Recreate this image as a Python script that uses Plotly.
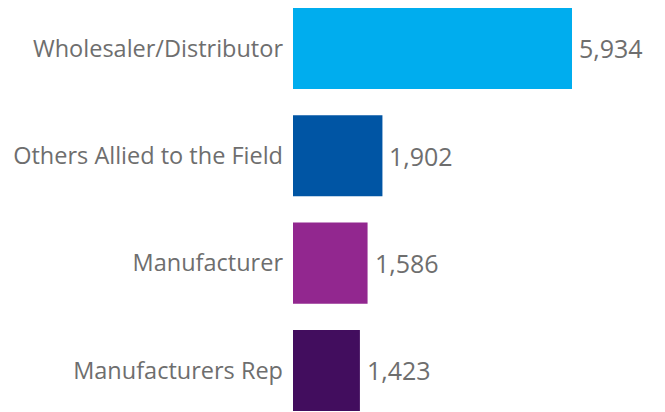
import plotly.graph_objects as go

categories = ["Wholesaler/Distributor", "Others Allied to the Field", "Manufacturer", "Manufacturers Rep"]
values = [5934, 1902, 1586, 1423]
colors = ["#00ADEE", "#0055A4", "#92278F", "#420D5E"]

positions = list(range(len(categories)))
TEXT_COLOR = "#6e6e6e"
FONT = "Open Sans"

fig = go.Figure(go.Bar(
    x=values,
    y=positions,
    orientation="h",
    marker=dict(color=colors, line=dict(width=0)),
    width=0.755,
    hoverinfo="skip",
))

for p, v in zip(positions, values):
    fig.add_annotation(
        x=v, y=p, xref="x", yref="y",
        text=f"{v:,}", showarrow=False,
        xanchor="left", yanchor="middle", xshift=5,
        font=dict(family=FONT, size=25, color=TEXT_COLOR),
    )

# page body has an 8px default margin, so the figure is 8px smaller
fig.update_layout(
    width=657, height=404,
    margin=dict(l=285, r=0, t=0, b=0),
    paper_bgcolor="white", plot_bgcolor="white",
    showlegend=False,
    font=dict(family=FONT, color=TEXT_COLOR),
)
fig.update_xaxes(range=[0, 7912], visible=False, showgrid=False, zeroline=False)
fig.update_yaxes(
    range=[3.387, -0.377],
    tickvals=positions, ticktext=categories,
    tickfont=dict(family=FONT, size=23.5, color=TEXT_COLOR),
    showgrid=False, zeroline=False, showline=False,
    ticks="", ticklabelstandoff=9, automargin=False,
)

fig.write_html("out.html")
